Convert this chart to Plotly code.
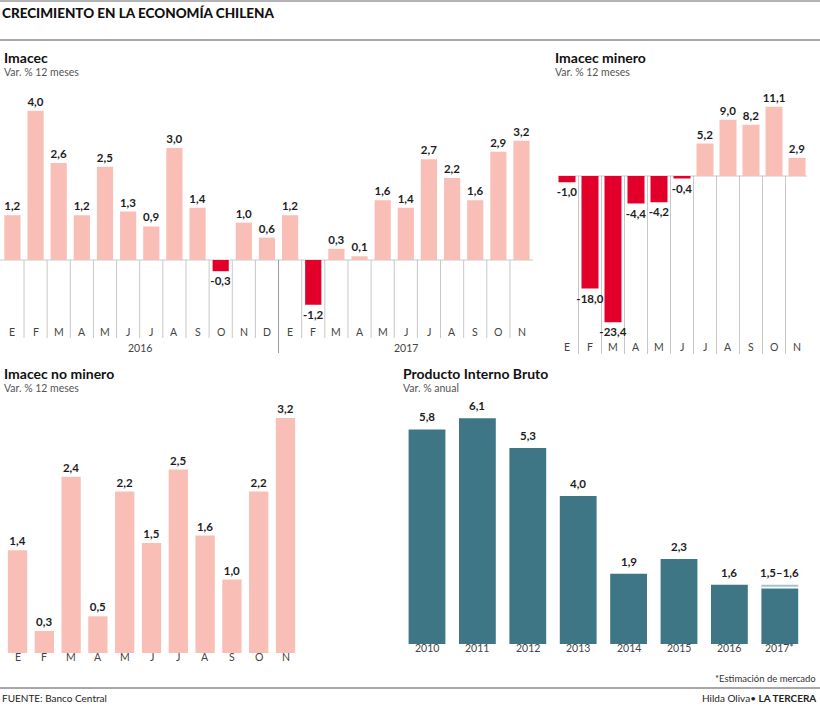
import plotly.graph_objects as go

W, H = 820, 716

# ---------------- data ----------------
imacec_months = ["E", "F", "M", "A", "M", "J", "J", "A", "S", "O", "N", "D",
                 "E", "F", "M", "A", "M", "J", "J", "A", "S", "O", "N"]
imacec_vals = [1.2, 4.0, 2.6, 1.2, 2.5, 1.3, 0.9, 3.0, 1.4, -0.3, 1.0, 0.6,
               1.2, -1.2, 0.3, 0.1, 1.6, 1.4, 2.7, 2.2, 1.6, 2.9, 3.2]
imacec_years = ["2016", "2017"]

minero_months = ["E", "F", "M", "A", "M", "J", "J", "A", "S", "O", "N"]
minero_vals = [-1.0, -18.0, -23.4, -4.4, -4.2, -0.4, 5.2, 9.0, 8.2, 11.1, 2.9]

nominero_months = ["E", "F", "M", "A", "M", "J", "J", "A", "S", "O", "N"]
nominero_vals = [1.4, 0.3, 2.4, 0.5, 2.2, 1.5, 2.5, 1.6, 1.0, 2.2, 3.2]

pib_years = ["2010", "2011", "2012", "2013", "2014", "2015", "2016", "2017*"]
pib_vals = [5.8, 6.1, 5.3, 4.0, 1.9, 2.3, 1.6, 1.5]
pib_range_top = [None, None, None, None, None, None, None, 1.6]

# ---------------- style ----------------
PINK = "#f9bfb6"
RED = "#e2002b"
TEAL = "#3e7686"
TEAL_LIGHT = "#a3c3cb"
TXT = "#1e1e1e"
SUB = "#555555"
GRID = "#c8c8c8"
FONT = "Lato"


def fmt(v):
    return f"{v:.1f}".replace(".", ",")


def fx(px):
    return px / W


def fy(py):
    return 1 - py / H


def colors(vals):
    return [RED if v < 0 else PINK for v in vals]


fig = go.Figure()

label_font = dict(family=FONT, size=11.5, color=TXT, weight="bold")

# ---- chart 1: Imacec ----
fig.add_trace(go.Bar(
    x=list(range(len(imacec_vals))), y=imacec_vals,
    marker=dict(color=colors(imacec_vals), line=dict(width=0)),
    width=0.7, text=[fmt(v) for v in imacec_vals], textposition="outside",
    textfont=label_font, constraintext="none", cliponaxis=False,
    xaxis="x", yaxis="y", hoverinfo="skip"))

# ---- chart 2: Imacec minero ----
fig.add_trace(go.Bar(
    x=list(range(len(minero_vals))), y=minero_vals,
    marker=dict(color=colors(minero_vals), line=dict(width=0)),
    width=0.74, text=[fmt(v) for v in minero_vals], textposition="outside",
    textfont=label_font, constraintext="none", cliponaxis=False,
    xaxis="x2", yaxis="y2", hoverinfo="skip"))

# ---- chart 3: Imacec no minero ----
fig.add_trace(go.Bar(
    x=list(range(len(nominero_vals))), y=nominero_vals,
    marker=dict(color=colors(nominero_vals), line=dict(width=0)),
    width=0.72, text=[fmt(v) for v in nominero_vals], textposition="outside",
    textfont=label_font, constraintext="none", cliponaxis=False,
    xaxis="x3", yaxis="y3", hoverinfo="skip"))

# ---- chart 4: PIB ----
fig.add_trace(go.Bar(
    x=list(range(len(pib_vals))), y=pib_vals,
    marker=dict(color=TEAL, line=dict(width=0)), width=0.73,
    xaxis="x4", yaxis="y4", hoverinfo="skip"))
rng_base = [b if t is not None else None for b, t in zip(pib_vals, pib_range_top)]
rng_h = [(t - b) if t is not None else None for b, t in zip(pib_vals, pib_range_top)]
fig.add_trace(go.Bar(
    x=list(range(len(pib_vals))), y=rng_h, base=rng_base,
    marker=dict(color=TEAL_LIGHT, line=dict(width=0)), width=0.73,
    xaxis="x4", yaxis="y4", hoverinfo="skip"))

annotations = []
shapes = []

# PIB value labels
for i, (v, t) in enumerate(zip(pib_vals, pib_range_top)):
    top = t if t is not None else v
    txt = fmt(v) if t is None else f"{fmt(v)}–{fmt(t)}"
    annotations.append(dict(x=i, y=top, xref="x4", yref="y4", text=txt,
                            showarrow=False, yanchor="bottom", yshift=4,
                            font=label_font))
# white split line in 2017 range bar
for i, (v, t) in enumerate(zip(pib_vals, pib_range_top)):
    if t is not None:
        shapes.append(dict(type="line", xref="x4", yref="y4",
                           x0=i - 0.365, x1=i + 0.365, y0=v + 0.03, y1=v + 0.03,
                           line=dict(color="white", width=1.2), layer="above"))

# ---------- axes geometry ----------
# chart 1
z1, s1 = 260, 37.3
c1_0, c1_d = 12.43, 23.14
y1_top, y1_bot = 96, 312
# chart 2
z2, s2 = 176, 6.25
c2_0, c2_d = 567, 23.0
y2_top, y2_bot = 100, 330
# chart 3
z3, s3 = 653, 73.4
c3_0, c3_d = 17.5, 26.8
y3_top, y3_bot = 405, 655
# chart 4
z4, s4 = 644, 37.0
c4_0, c4_d = 427, 50.4
y4_top, y4_bot = 405, 646


def xaxis(px0, px1, c0, d):
    return dict(domain=[fx(px0), fx(px1)], range=[(px0 - c0) / d, (px1 - c0) / d],
                visible=False, fixedrange=True)


def yaxis(ptop, pbot, z, s, anchor):
    return dict(domain=[fy(pbot), fy(ptop)], range=[-(pbot - z) / s, (z - ptop) / s],
                visible=False, fixedrange=True, anchor=anchor)


layout_axes = dict(
    xaxis=dict(xaxis(0, 533, c1_0, c1_d), anchor="y"),
    yaxis=yaxis(y1_top, y1_bot, z1, s1, "x"),
    xaxis2=dict(xaxis(558, 807, c2_0, c2_d), anchor="y2"),
    yaxis2=yaxis(y2_top, y2_bot, z2, s2, "x2"),
    xaxis3=dict(xaxis(4, 300, c3_0, c3_d), anchor="y3"),
    yaxis3=yaxis(y3_top, y3_bot, z3, s3, "x3"),
    xaxis4=dict(xaxis(402, 806, c4_0, c4_d), anchor="y4"),
    yaxis4=yaxis(y4_top, y4_bot, z4, s4, "x4"),
)

tick_font = dict(family=FONT, size=10.5, color="#444444")

# chart 1: zero line, separators, month + year labels
shapes.append(dict(type="line", xref="x domain", yref="y", x0=0, x1=1, y0=0, y1=0,
                   line=dict(color=GRID, width=1), layer="below"))
for i in range(len(imacec_vals) - 1):
    bottom = 353 if i == 11 else 338
    col = "#9a9a9a" if i == 11 else GRID
    shapes.append(dict(type="line", xref="x", yref="paper", x0=i + 0.5, x1=i + 0.5,
                       y0=fy(z1), y1=fy(bottom), line=dict(color=col, width=1),
                       layer="below"))
for i, m in enumerate(imacec_months):
    annotations.append(dict(x=i, y=fy(332), xref="x", yref="paper", text=m,
                            showarrow=False, font=tick_font))
annotations.append(dict(x=5.5, y=fy(348), xref="x", yref="paper", text=imacec_years[0],
                        showarrow=False, font=tick_font))
annotations.append(dict(x=17, y=fy(348), xref="x", yref="paper", text=imacec_years[1],
                        showarrow=False, font=tick_font))

# chart 2
shapes.append(dict(type="line", xref="x2 domain", yref="y2", x0=0, x1=1, y0=0, y1=0,
                   line=dict(color=GRID, width=1), layer="below"))
for i in range(len(minero_vals) - 1):
    shapes.append(dict(type="line", xref="x2", yref="paper", x0=i + 0.5, x1=i + 0.5,
                       y0=fy(z2), y1=fy(354), line=dict(color=GRID, width=1),
                       layer="below"))
for i, m in enumerate(minero_months):
    annotations.append(dict(x=i, y=fy(347), xref="x2", yref="paper", text=m,
                            showarrow=False, font=tick_font))

# chart 3
for i, m in enumerate(nominero_months):
    annotations.append(dict(x=i, y=fy(665), xref="x3", yref="paper", text=m,
                            showarrow=False, font=tick_font))

# chart 4
for i, yv in enumerate(pib_years):
    annotations.append(dict(x=i, y=fy(656), xref="x4", yref="paper", text=yv,
                            showarrow=False, font=tick_font))

# ---------- titles and texts ----------
def txt(x, y, text, size, color=TXT, weight="normal", xanchor="left"):
    annotations.append(dict(x=fx(x), y=fy(y), xref="paper", yref="paper", text=text,
                            showarrow=False, xanchor=xanchor, yanchor="middle",
                            font=dict(family=FONT, size=size, color=color, weight=weight)))


txt(0, 13, "CRECIMIENTO EN LA ECONOMÍA CHILENA", 13.5, "#111111", 900)
txt(2, 57, "Imacec", 14, "#111111", "bold")
txt(2, 72, "Var. % 12 meses", 10.5, SUB)
txt(553, 57, "Imacec minero", 14, "#111111", "bold")
txt(553, 72, "Var. % 12 meses", 10.5, SUB)
txt(2, 373, "Imacec no minero", 14, "#111111", "bold")
txt(2, 388, "Var. % 12 meses", 10.5, SUB)
txt(401, 373, "Producto Interno Bruto", 14, "#111111", "bold")
txt(401, 388, "Var. % anual", 10.5, SUB)
txt(818, 678, "*Estimación de mercado", 9.5, "#333333", xanchor="right")
txt(0, 698, "FUENTE: Banco Central", 10, "#222222")
txt(818, 698, "Hilda Oliva• <b>LA TERCERA</b>", 10, "#222222", xanchor="right")

# header / footer rules
for yy, col, wdt in [(1, "#9a9a9a", 1.5), (40, "#8a8a8a", 1.5), (688, "#8a8a8a", 1.5)]:
    shapes.append(dict(type="line", xref="paper", yref="paper", x0=0, x1=1,
                       y0=fy(yy), y1=fy(yy), line=dict(color=col, width=wdt)))

fig.update_layout(
    width=W, height=H, margin=dict(l=0, r=0, t=0, b=0),
    paper_bgcolor="white", plot_bgcolor="white",
    showlegend=False, barmode="overlay",
    annotations=annotations, shapes=shapes,
    font=dict(family=FONT, color=TXT),
    **layout_axes,
)

fig.write_html("out.html", config={"displayModeBar": False},
               post_script="document.body.style.margin='0';document.body.style.overflow='hidden';")
